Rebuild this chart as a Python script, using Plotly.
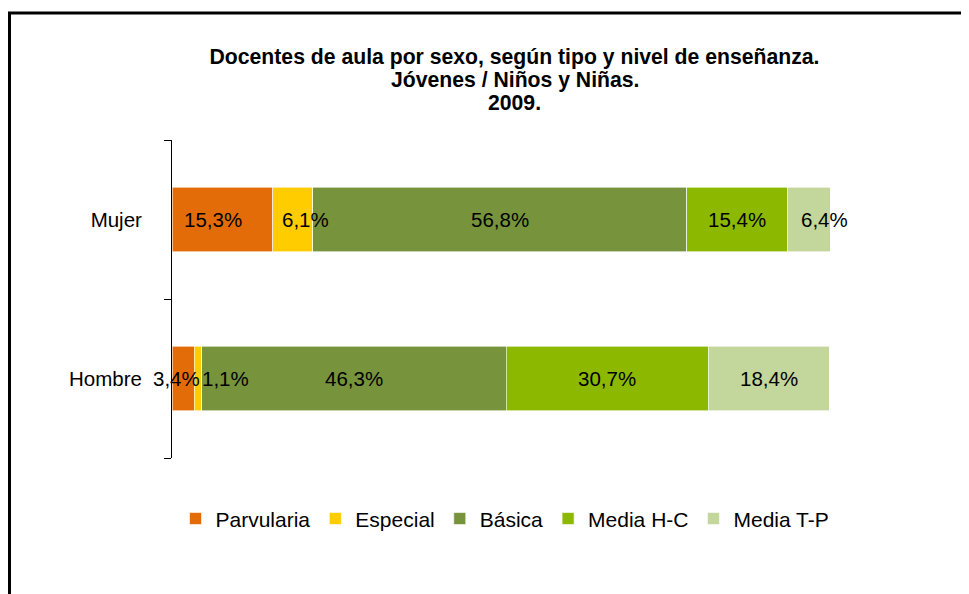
import plotly.graph_objects as go

categories = ["Hombre", "Mujer"]
series_names = ["Parvularia", "Especial", "Básica", "Media H-C", "Media T-P"]
hombre = [3.4, 1.1, 46.3, 30.7, 18.4]
mujer = [15.3, 6.1, 56.8, 15.4, 6.4]
colors = ["#E36C09", "#FFCC00", "#77933C", "#8DB800", "#C3D69B"]
title_lines = [
    "Docentes de aula por sexo, según tipo y nivel de enseñanza.",
    "Jóvenes / Niños y Niñas.",
    "2009.",
]
# small horizontal nudges of the data labels (as placed in the original)
label_nudge_hombre = [-7, 28, 0, 0, 0]
label_nudge_mujer = [-9, 13, 0, 0, 16]

FONT = "Liberation Sans, Arial, sans-serif"
W, H = 961, 586
L, R, T, B = 164, 139, 132, 136
PH = H - T - B
PW = W - L - R

fig = go.Figure()
for i, name in enumerate(series_names):
    fig.add_trace(go.Bar(
        name=name,
        y=categories,
        x=[hombre[i], mujer[i]],
        orientation="h",
        marker=dict(color=colors[i], line=dict(color="white", width=0.6)),
        hoverinfo="x+y",
    ))

def fmt(v):
    return f"{v:.1f}%".replace(".", ",")

annotations = []
for cat, vals, nudges in (("Hombre", hombre, label_nudge_hombre), ("Mujer", mujer, label_nudge_mujer)):
    base = 0.0
    for v, dx in zip(vals, nudges):
        annotations.append(dict(
            x=base + v / 2, y=cat, xref="x", yref="y", text=fmt(v),
            showarrow=False, xshift=dx, font=dict(family=FONT, size=20.5, color="black"),
        ))
        base += v

# title lines 2 and 3 (line 1 is layout.title) with the original's tight spacing
title_x = (506.5 - L) / PW
for line, yc in zip(title_lines[1:], (72, 94)):
    annotations.append(dict(
        x=title_x, y=(H - B - yc) / PH, xref="paper", yref="paper",
        xanchor="center", yanchor="middle", showarrow=False,
        text=f"<b>{line}</b>", font=dict(family=FONT, size=21.2, color="black"),
    ))

fig.update_layout(
    barmode="stack",
    bargap=0.595,
    width=W, height=H,
    margin=dict(l=L, r=R, t=T, b=B),
    paper_bgcolor="white", plot_bgcolor="white",
    font=dict(family=FONT, size=20, color="black"),
    title=dict(
        text=f"<b>{title_lines[0]}</b>",
        x=(506.5) / W, xref="container", xanchor="center",
        y=1 - 49 / H, yref="container", yanchor="middle",
        font=dict(family=FONT, size=21.2, color="black"),
    ),
    xaxis=dict(range=[0, 100], visible=False, fixedrange=True),
    yaxis=dict(
        type="category", categoryorder="array", categoryarray=categories,
        showline=True, linecolor="black", linewidth=1,
        ticks="outside", ticklen=7, tickcolor="black", tickson="boundaries",
        ticklabelstandoff=25, showgrid=False, zeroline=False,
        tickfont=dict(family=FONT, size=20.5, color="black"),
    ),
    legend=dict(
        orientation="h", x=(505 - 8 - L) / PW, xanchor="center", xref="paper",
        y=-0.127, yanchor="top", font=dict(family=FONT, size=21, color="black"),
        traceorder="normal", itemwidth=30,
    ),
    annotations=annotations,
    shapes=[dict(
        type="rect", xref="paper", yref="paper",
        x0=(1.5 - L) / PW, x1=(990 - L) / PW,
        y0=(H - B - 620) / PH, y1=(H - B - 5) / PH,
        line=dict(color="black", width=3), fillcolor="rgba(0,0,0,0)", layer="below",
    )],
)

fig.write_html("out.html")
